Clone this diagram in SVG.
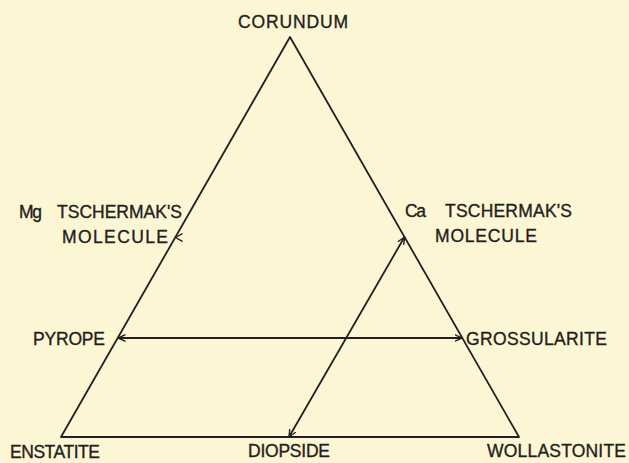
<svg xmlns="http://www.w3.org/2000/svg" width="629" height="463" viewBox="0 0 629 463">
  <style>
    .bg { fill: #fdf6d4; }
    .edge { fill: none; stroke: #231f20; stroke-width: 1.8; stroke-linecap: round; stroke-linejoin: round; }
    .lbl { font-family: "Liberation Sans", "DejaVu Sans", Arial, sans-serif; font-size: 17.5px; fill: #231f20; stroke: #231f20; stroke-width: 0.35; }
  </style>
  <defs>
    <marker id="arr" viewBox="0 0 8 8" refX="7.5" refY="4" markerWidth="8" markerHeight="8" markerUnits="userSpaceOnUse" orient="auto-start-reverse">
      <path d="M0.5,0.8 L7.5,4 L0.5,7.2" fill="none" stroke="#231f20" stroke-width="1.4" stroke-linecap="round" stroke-linejoin="round"/>
    </marker>
  </defs>
  <rect class="bg" x="0" y="0" width="629" height="463"/>

  <g id="connectors">
    <path id="triangle" class="edge" d="M61,437 L290,37 L519,437 Z"/>
    <line id="pyrope-grossularite" class="edge" x1="118" y1="338" x2="462" y2="338" marker-start="url(#arr)" marker-end="url(#arr)"/>
    <line id="diopside-ca-tschermak" class="edge" x1="289" y1="437" x2="404.5" y2="237" marker-start="url(#arr)" marker-end="url(#arr)"/>
    <path id="mg-tschermak-mark" d="M182,233.8 L175.5,237.5 L182,241.2" fill="none" stroke="#231f20" stroke-width="1.4" stroke-linecap="round" stroke-linejoin="round"/>
  </g>

  <g id="corundum">
    <text class="lbl" x="238" y="28" textLength="110" lengthAdjust="spacing">CORUNDUM</text>
  </g>
  <g id="mg-tschermak">
    <text class="lbl" y="218"><tspan x="19" textLength="23" lengthAdjust="spacing">Mg</tspan><tspan x="57" textLength="125" lengthAdjust="spacing">TSCHERMAK'S</tspan></text>
    <text class="lbl" x="62" y="243" textLength="106" lengthAdjust="spacing">MOLECULE</text>
  </g>
  <g id="ca-tschermak">
    <text class="lbl" y="217"><tspan x="405" textLength="21" lengthAdjust="spacing">Ca</tspan><tspan x="445" textLength="127" lengthAdjust="spacing">TSCHERMAK'S</tspan></text>
    <text class="lbl" x="435" y="242" textLength="102" lengthAdjust="spacing">MOLECULE</text>
  </g>
  <g id="pyrope">
    <text class="lbl" x="33" y="345" textLength="72" lengthAdjust="spacing">PYROPE</text>
  </g>
  <g id="grossularite">
    <text class="lbl" x="466" y="345" textLength="141" lengthAdjust="spacing">GROSSULARITE</text>
  </g>
  <g id="enstatite">
    <text class="lbl" x="10" y="458" textLength="90" lengthAdjust="spacing">ENSTATITE</text>
  </g>
  <g id="diopside">
    <text class="lbl" x="248" y="457" textLength="82" lengthAdjust="spacing">DIOPSIDE</text>
  </g>
  <g id="wollastonite">
    <text class="lbl" x="487" y="457" textLength="139" lengthAdjust="spacing">WOLLASTONITE</text>
  </g>
</svg>
